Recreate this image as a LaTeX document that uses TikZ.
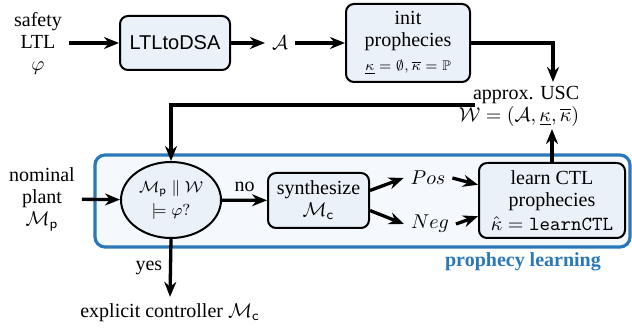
\documentclass[tikz,border=0pt]{standalone}
\usepackage{amsmath,amssymb}
\usepackage[no-math]{fontspec}
\setmainfont{Liberation Serif}
\newfontfamily\arialf{Liberation Sans}
\usetikzlibrary{arrows.meta,shapes.geometric,calc}
\definecolor{plblue}{HTML}{2A78B8}
\definecolor{boxfill}{HTML}{EBF1F8}
\definecolor{plfill}{HTML}{F5F9FD}
\begin{document}
\begin{tikzpicture}[x=0.5pt,y=-0.5pt,font=\fontsize{10}{11}\selectfont,
  box/.style={draw,rounded corners=4pt,line width=1pt,fill=boxfill,align=center,inner sep=0pt},
  arr/.style={-{Stealth[length=7.5pt,width=6pt]},line width=1.65pt},
  txt/.style={align=center}]
\useasboundingbox (0,0) rectangle (632,331);
% container
\node[draw=plblue,fill=plfill,line width=1.6pt,rounded corners=5pt,minimum width=267.5pt,minimum height=46pt,inner sep=0pt] (plbox) at (362.5,201) {};
\node[text=plblue,font=\fontsize{10}{11}\selectfont\bfseries] (pllab) at (523,262) {prophecy learning};
% top row
\node[txt] (spec) at (38,43) {safety\\LTL\\$\varphi$};
\node[box,minimum width=55pt,minimum height=27pt,font=\arialf\fontsize{10}{11}\selectfont] (dsa) at (175,43) {LTLtoDSA};
\node (aut) at (280,43) {$\mathcal{A}$};
\node[box,minimum width=62pt,minimum height=39pt] (init) at (408,43) {init\\prophecies\\[1pt]{\scriptsize$\underline{\kappa}=\emptyset, \overline{\kappa}=\mathbb{P}$}};
\node[align=right] (usc) at (519,106) {approx. USC\\$\mathcal{W}=(\mathcal{A},\underline{\kappa},\overline{\kappa})$};
\coordinate (uscin) at (553,82);
\coordinate (uscout) at (552,129);
\coordinate (uscl) at (475,105);
% middle row
\node[txt] (plant) at (42,199) {nominal\\plant\\$\mathcal{M}_{\mathsf{p}}$};
\node[ellipse,draw,fill=boxfill,minimum width=50pt,minimum height=38pt,inner sep=0pt,line width=1pt,font=\footnotesize,align=center] (chk) at (171,200) {$\mathcal{M}_{\mathsf{p}} \parallel \mathcal{W}$\\[2pt]$\models \varphi?$};
\node[box,minimum width=50.5pt,minimum height=27.5pt] (synth) at (318.5,200.5) {synthesize\\$\mathcal{M}_{\mathsf{c}}$};
\node (pos) at (428,178) {$Pos$};
\node (neg) at (430,224) {$Neg$};
\node[box,minimum width=73pt,minimum height=37.5pt] (learn) at (552,200.5) {learn CTL\\prophecies\\[1.2pt]$\hat{\kappa}=\texttt{learnCTL}$};
\node (expl) at (170,313) {explicit controller $\mathcal{M}_{\mathsf{c}}$};
% connectors
\draw[arr] (spec) -- (dsa);
\draw[arr] (dsa) -- (aut);
\draw[arr] (aut) -- (init);
\draw[arr] (init.east) -| (uscin);
\draw[arr] (uscl) -| (chk.north);
\draw[arr] (plant) -- (chk);
\draw[arr] (chk) -- node[above] {no} (synth);
\draw[arr] (synth.11) -- (pos.west);
\draw[arr] (synth.-11) -- (neg.west);
\draw[arr] (pos.east) -- (learn.168);
\draw[arr] (neg.east) -- (learn.192);
\draw[arr] (learn.north) -- (uscout);
\draw[arr] (chk.south) -- node[left] {yes} (expl.north);
\end{tikzpicture}
\end{document}
